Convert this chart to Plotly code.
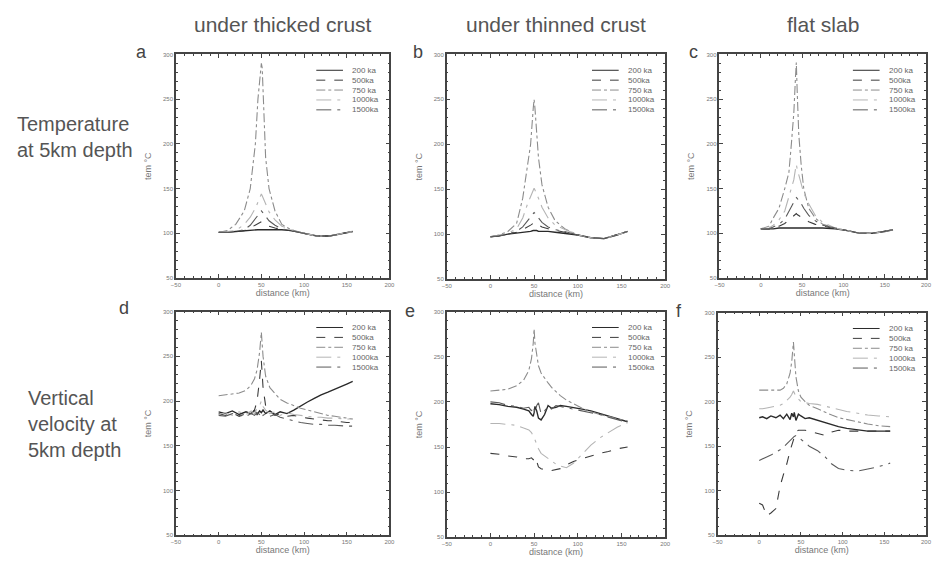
import plotly.graph_objects as go

W, H = 935, 562

# ---- data ----
series_names = ["200 ka", "500ka", "750 ka", "1000ka", "1500ka"]

# temperature at 5 km depth
dist_a = [0, 10, 20, 30, 37, 43, 46, 49, 50, 51, 53, 55, 59, 66, 74, 85, 100, 115, 130, 145, 157]
a_200 = [101, 101, 102, 103, 103, 104, 104, 104, 104, 104, 104, 104, 104, 104, 104, 103, 100, 97, 97, 100, 102]
a_500 = [101, 101, 102, 103, 106, 109, 111, 112, 113, 112, 111, 110, 108, 106, 104, 103, 100, 97, 97, 100, 102]
a_750 = [101, 103, 110, 125, 150, 200, 250, 285, 290, 285, 240, 185, 150, 125, 110, 104, 100, 97, 97, 100, 102]
a_1000 = [101, 102, 103, 110, 118, 128, 135, 142, 144, 142, 138, 133, 124, 115, 108, 104, 100, 97, 97, 100, 102]
a_1500 = [101, 101, 102, 104, 109, 116, 120, 124, 125, 124, 122, 119, 114, 109, 105, 103, 100, 97, 97, 100, 102]

dist_b = [0, 10, 20, 30, 37, 43, 46, 49, 50, 51, 53, 55, 59, 66, 74, 85, 100, 115, 130, 145, 157]
b_200 = [97, 98, 100, 101, 102, 103, 103, 104, 104, 104, 104, 103, 103, 103, 102, 101, 99, 96, 95, 99, 103]
b_500 = [97, 98, 100, 102, 105, 108, 110, 112, 113, 112, 111, 110, 108, 106, 104, 102, 99, 96, 95, 99, 103]
b_750 = [97, 99, 103, 112, 140, 180, 200, 240, 250, 240, 210, 185, 155, 130, 115, 106, 99, 96, 95, 99, 103]
b_1000 = [97, 99, 101, 106, 118, 135, 142, 149, 151, 149, 145, 140, 130, 118, 110, 105, 99, 96, 95, 99, 103]
b_1500 = [97, 98, 100, 103, 108, 115, 119, 123, 124, 123, 121, 118, 113, 108, 105, 103, 99, 96, 95, 99, 103]

dist_c = [0, 10, 15, 22, 29, 34, 37, 40, 42, 43, 44, 46, 49, 52, 58, 66, 75, 90, 105, 120, 135, 150, 160]
c_200 = [105, 105, 105, 106, 106, 106, 106, 106, 106, 106, 106, 106, 106, 106, 106, 106, 106, 105, 103, 100, 100, 102, 104]
c_500 = [105, 105, 106, 108, 111, 115, 118, 120, 121, 122, 121, 120, 118, 116, 113, 110, 108, 105, 103, 100, 100, 102, 104]
c_750 = [105, 108, 117, 128, 150, 168, 200, 235, 275, 291, 260, 210, 175, 150, 128, 117, 110, 106, 103, 100, 100, 102, 104]
c_1000 = [105, 106, 109, 115, 125, 140, 150, 160, 172, 177, 172, 165, 155, 145, 133, 120, 112, 106, 103, 100, 100, 102, 104]
c_1500 = [105, 105, 107, 110, 116, 124, 130, 135, 139, 140, 139, 137, 133, 128, 120, 114, 109, 106, 103, 100, 100, 102, 104]

# vertical velocity at 5 km depth
dist_d = [0, 8, 16, 24, 32, 38, 42, 45, 48, 50, 52, 55, 60, 66, 72, 80, 88, 96, 104, 112, 120, 128, 136, 144, 150, 157]
d_200 = [188, 186, 189, 185, 188, 186, 190, 185, 189, 187, 190, 186, 189, 185, 188, 186, 190, 195, 199, 203, 207, 210, 213, 216, 219, 222]
d_500 = [186, 184, 187, 183, 186, 185, 190, 200, 225, 245, 215, 195, 188, 184, 186, 183, 184, 182, 181, 180, 179, 178, 178, 177, 176, 176]
d_750 = [206, 207, 208, 209, 212, 218, 225, 235, 255, 277, 250, 228, 215, 208, 202, 198, 195, 192, 190, 188, 186, 184, 183, 182, 181, 180]
d_1000 = [185, 187, 184, 188, 185, 189, 186, 192, 195, 200, 194, 190, 186, 188, 184, 187, 185, 184, 183, 182, 182, 181, 181, 180, 180, 180]
d_1500 = [184, 183, 186, 184, 183, 186, 184, 187, 185, 188, 184, 186, 183, 185, 182, 180, 178, 176, 175, 174, 174, 173, 173, 172, 172, 172]

dist_e = [0, 10, 20, 30, 38, 44, 47, 49, 50, 51, 53, 55, 58, 62, 66, 70, 75, 80, 87, 95, 105, 115, 125, 135, 145, 157]
e_200 = [198, 197, 195, 194, 192, 190, 186, 184, 188, 195, 190, 182, 180, 186, 196, 193, 194, 196, 195, 194, 192, 190, 187, 184, 181, 178]
e_500 = [143, 142, 140, 139, 137, 137, 138, 136, 137, 139, 134, 128, 126, 125, 124, 124, 125, 126, 130, 134, 137, 140, 143, 145, 148, 150]
e_750 = [212, 213, 214, 218, 224, 235, 248, 265, 281, 265, 250, 240, 232, 226, 221, 216, 211, 207, 202, 198, 193, 189, 186, 184, 181, 179]
e_1000 = [176, 176, 175, 174, 171, 169, 166, 163, 160, 158, 153, 148, 143, 140, 137, 134, 131, 129, 127, 132, 142, 152, 160, 166, 172, 177]
e_1500 = [200, 199, 196, 195, 193, 194, 190, 195, 192, 188, 196, 199, 187, 190, 195, 192, 196, 195, 193, 192, 190, 188, 186, 183, 180, 177]

dist_f = [0, 4, 9, 14, 20, 25, 29, 33, 37, 39, 41, 42, 44, 47, 50, 55, 60, 70, 79, 87, 95, 105, 118, 130, 143, 157]
f_200 = [182, 183, 181, 184, 182, 185, 181, 186, 180, 187, 183, 188, 179, 186, 184, 181, 182, 179, 176, 174, 172, 170, 168, 167, 167, 167]
f_500 = [86, 84, 72, 75, 80, 105, 118, 130, 145, 151, 156, 160, 166, 168, 168, 168, 167, 164, 162, 166, 168, 167, 167, 167, 167, 167]
f_750 = [213, 213, 213, 213, 213, 213, 215, 220, 232, 245, 267, 252, 228, 212, 205, 200, 196, 192, 188, 185, 182, 180, 177, 175, 173, 172]
f_1000 = [192, 192, 193, 194, 195, 196, 198, 201, 205, 208, 212, 210, 206, 203, 200, 199, 198, 197, 195, 193, 191, 189, 187, 185, 184, 183]
f_1500 = [134, 136, 138, 140, 143, 146, 149, 153, 157, 158, 160, 161, 162, 160, 158, 154, 150, 145, 138, 130, 125, 123, 122, 124, 127, 131]

panels = [
    (dist_a, [a_200, a_500, a_750, a_1000, a_1500]),
    (dist_b, [b_200, b_500, b_750, b_1000, b_1500]),
    (dist_c, [c_200, c_500, c_750, c_1000, c_1500]),
    (dist_d, [d_200, d_500, d_750, d_1000, d_1500]),
    (dist_e, [e_200, e_500, e_750, e_1000, e_1500]),
    (dist_f, [f_200, f_500, f_750, f_1000, f_1500]),
]
letters = ["a", "b", "c", "d", "e", "f"]
col_titles = ["under thicked crust", "under thinned crust", "flat slab"]

# ---- layout geometry (pixels) ----
boxes = [(173, 389, 52, 278), (447, 668, 52, 279), (723, 932, 52, 278),
         (173, 389, 312, 538), (447, 668, 312, 540), (721, 932, 313, 538)]
letter_pos = [(138, 50), (418, 50), (697, 50), (120, 308), (410, 311), (682, 311)]

line_styles = [
    dict(color="#2a2a2a", dash="solid", width=1.4),
    dict(color="#3c3c3c", dash="dash", width=1.1),
    dict(color="#8c8c8c", dash="dashdot", width=1.1),
    dict(color="#b4b4b4", dash="longdashdot", width=1.1),
    dict(color="#5a5a5a", dash="longdashdot", width=1.1),
]


def px(x):
    return x / W


def py(y):
    return 1 - y / H


fig = go.Figure()
shapes = []
annotations = []
text_font = "Liberation Sans, Arial"
axis_font = dict(family=text_font, size=6, color="#777")

for i, ((dist, series), box) in enumerate(zip(panels, boxes)):
    n = i + 1
    xa = "x" if n == 1 else f"x{n}"
    ya = "y" if n == 1 else f"y{n}"
    for name, vals, st in zip(series_names, series, line_styles):
        fig.add_trace(go.Scatter(x=dist, y=vals, mode="lines", name=name,
                                 line=st, xaxis=xa, yaxis=ya, showlegend=False))
    x0, x1, y0, y1 = box
    common = dict(showgrid=False, zeroline=False, showline=True, linecolor="#444",
                  linewidth=1.5, mirror="allticks", ticks="inside", ticklen=4,
                  tickcolor="#444", tickwidth=1, tickfont=axis_font)
    fig.update_layout(**{
        ("xaxis" if n == 1 else f"xaxis{n}"): dict(
            common, domain=[px(x0), px(x1)], range=[-50, 200], dtick=50,
            anchor=ya, minor=dict(ticks="inside", ticklen=2, dtick=10, tickcolor="#444"),
            title=dict(text="distance (km)", standoff=1,
                       font=dict(family=text_font, size=9, color="#777"))),
        ("yaxis" if n == 1 else f"yaxis{n}"): dict(
            common, domain=[py(y1), py(y0)], range=[50, 300], dtick=50,
            anchor=xa, minor=dict(ticks="inside", ticklen=2, dtick=10, tickcolor="#444"),
            title=dict(text="tem °C", standoff=10,
                       font=dict(family=text_font, size=9, color="#777"))),
    })
    # legend drawn inside each panel
    for k, (name, st) in enumerate(zip(series_names, line_styles)):
        yy = y0 + 16 + 10 * k
        shapes.append(dict(type="line", xref="paper", yref="paper",
                           x0=px(x1 - 74), x1=px(x1 - 47), y0=py(yy), y1=py(yy),
                           line=dict(color=st["color"], dash=st["dash"], width=1)))
        annotations.append(dict(x=px(x1 - 40), y=py(yy), xref="paper", yref="paper",
                                text=name, showarrow=False, xanchor="left", yanchor="middle",
                                font=dict(family=text_font, size=8, color="#666")))
    lx, ly = letter_pos[i]
    annotations.append(dict(x=px(lx), y=py(ly), xref="paper", yref="paper", text=letters[i],
                            showarrow=False, xanchor="center", yanchor="middle",
                            font=dict(family=text_font, size=18, color="#444")))

for j, t in enumerate(col_titles):
    x0, x1 = boxes[j][0], boxes[j][1]
    annotations.append(dict(x=px((x0 + x1) / 2), y=py(22), xref="paper", yref="paper", text=t,
                            showarrow=False, xanchor="center", yanchor="middle",
                            font=dict(family=text_font, size=21, color="#555")))

annotations.append(dict(x=px(10), y=py(135), xref="paper", yref="paper",
                        text="Temperature<br>at 5km depth", showarrow=False, align="left",
                        xanchor="left", yanchor="middle",
                        font=dict(family=text_font, size=20, color="#555")))
annotations.append(dict(x=px(21), y=py(426), xref="paper", yref="paper",
                        text="Vertical<br>velocity at<br>5km depth", showarrow=False, align="left",
                        xanchor="left", yanchor="middle",
                        font=dict(family=text_font, size=20, color="#555")))

fig.update_layout(width=W, height=H, margin=dict(l=0, r=0, t=0, b=0),
                  paper_bgcolor="white", plot_bgcolor="white",
                  shapes=shapes, annotations=annotations, showlegend=False)

fig.write_html("out.html", config={"displayModeBar": False},
               post_script="document.body.style.margin='0';")
